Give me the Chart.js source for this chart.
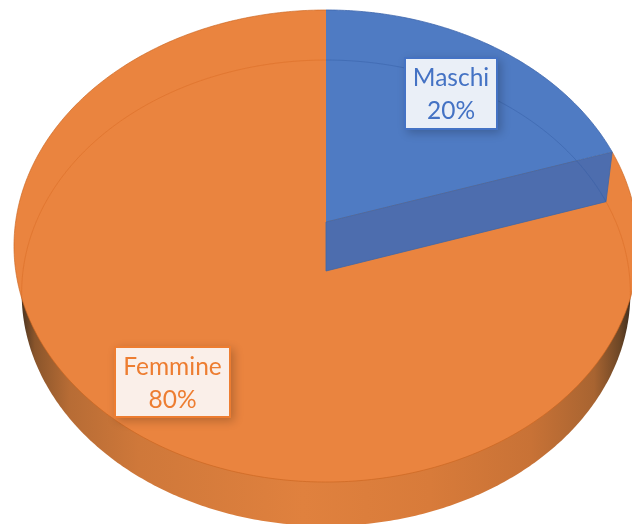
<!DOCTYPE html>
<html>
<head>
<meta charset="utf-8">
<style>
  html, body { margin: 0; padding: 0; background: #fff; }
  canvas { display: block; }
</style>
<script src="https://cdn.jsdelivr.net/npm/chart.js@4/dist/chart.umd.min.js"></script>
</head>
<body>
<canvas id="pieChart" width="632" height="524"></canvas>
<script>
var categories = ["Maschi", "Femmine"];
var values = [20, 80];

var sliceColors = ["#4F7BC3", "#EA843F"];
var edgeColors = ["rgba(62,102,172,0.8)", "rgba(203,101,32,0.65)"];
var seeThroughLines = ["rgba(50,90,160,0.4)", "rgba(214,104,34,0.45)"];
var labelColors = ["#4472C4", "#ED7D31"];
var labelFills = ["#EAEFF7", "#FAEFE9"];
var labelBoxes = [
  { left: 405, top: 58, width: 92, height: 71 },
  { left: 115, top: 347, width: 115, height: 70 }
];

// camera for the tilted disc: top face and bottom face of the pie
var topFace = { cx: 326, apex: 222, a: 310.4, b: 211, k: 0.1017 };
var bottomFace = { cx: 326, apex: 271, a: 303, b: 205.3, k: 0.0944 };

function project(face, angle) {
  var u = Math.cos(angle), v = Math.sin(angle);
  var w = 1 - face.k * v;
  return { x: face.cx + face.a * u / w, y: (face.apex + face.b * v) / w };
}

function tracePerimeter(ctx, face, start, end) {
  var steps = Math.max(2, Math.ceil((end - start) * 90));
  for (var i = 0; i <= steps; i++) {
    var p = project(face, start + (end - start) * i / steps);
    ctx.lineTo(p.x, p.y);
  }
}

function traceSlice(ctx, face, arc) {
  ctx.beginPath();
  ctx.moveTo(face.cx, face.apex);
  tracePerimeter(ctx, face, arc.startAngle, arc.endAngle);
  ctx.closePath();
}

function strokeBottomOutline(ctx, color) {
  ctx.beginPath();
  tracePerimeter(ctx, bottomFace, 0, Math.PI * 2);
  ctx.closePath();
  ctx.strokeStyle = color;
  ctx.lineWidth = 1;
  ctx.stroke();
}

function rimGradient(ctx) {
  var g = ctx.createLinearGradient(0, 0, 632, 0);
  g.addColorStop(0.030, "#3F2E1F");
  g.addColorStop(0.055, "#8A552B");
  g.addColorStop(0.110, "#B76C35");
  g.addColorStop(0.220, "#CF783A");
  g.addColorStop(0.480, "#E0813E");
  g.addColorStop(0.680, "#D87B3A");
  g.addColorStop(0.840, "#C87236");
  g.addColorStop(0.940, "#A86431");
  g.addColorStop(0.980, "#6E4726");
  g.addColorStop(1.000, "#3A2B1D");
  return g;
}

var pie3d = {
  id: "pie3d",
  beforeDatasetsDraw: function (chart) {
    var ctx = chart.ctx;
    var arcs = chart.getDatasetMeta(0).data;
    ctx.save();

    // rim, only the part below the top face stays visible
    ctx.beginPath();
    tracePerimeter(ctx, bottomFace, 0, Math.PI * 2);
    ctx.closePath();
    ctx.fillStyle = rimGradient(ctx);
    ctx.fill();

    // top face
    arcs.forEach(function (arc, i) {
      traceSlice(ctx, topFace, arc);
      ctx.fillStyle = sliceColors[i];
      ctx.fill();
    });

    // bottom face seen through the top one
    arcs.forEach(function (arc, i) {
      ctx.save();
      traceSlice(ctx, topFace, arc);
      ctx.clip();
      strokeBottomOutline(ctx, seeThroughLines[i]);
      ctx.restore();
    });

    // outlines of the top face
    arcs.forEach(function (arc, i) {
      ctx.beginPath();
      tracePerimeter(ctx, topFace, arc.startAngle, arc.endAngle);
      ctx.strokeStyle = edgeColors[i];
      ctx.lineWidth = 1;
      ctx.stroke();
    });

    // cut wall of the small slice
    var a = arcs[0];
    var t = project(topFace, a.endAngle), b = project(bottomFace, a.endAngle);
    ctx.beginPath();
    ctx.moveTo(topFace.cx, topFace.apex);
    ctx.lineTo(t.x, t.y);
    ctx.lineTo(b.x, b.y);
    ctx.lineTo(bottomFace.cx, bottomFace.apex);
    ctx.closePath();
    ctx.fillStyle = "#4D6DAE";
    ctx.fill();
    ctx.strokeStyle = "rgba(63,102,168,0.8)";
    ctx.stroke();
    ctx.save();
    ctx.clip();
    strokeBottomOutline(ctx, seeThroughLines[0]);
    ctx.restore();

    ctx.restore();
    return false;
  },
  afterDraw: function (chart) {
    var ctx = chart.ctx;
    var total = values.reduce(function (s, v) { return s + v; }, 0);
    categories.forEach(function (name, i) {
      var box = labelBoxes[i];
      ctx.save();
      ctx.shadowColor = "rgba(0,0,0,0.22)";
      ctx.shadowBlur = 9;
      ctx.shadowOffsetX = 3;
      ctx.shadowOffsetY = 3;
      ctx.fillStyle = labelColors[i];
      ctx.fillRect(box.left - 1, box.top - 1, box.width + 2, box.height + 2);
      ctx.restore();
      ctx.fillStyle = labelFills[i];
      ctx.fillRect(box.left + 1, box.top + 1, box.width - 2, box.height - 2);
      ctx.fillStyle = labelColors[i];
      ctx.font = "24.5px Lato, 'Open Sans', sans-serif";
      ctx.textAlign = "center";
      ctx.textBaseline = "middle";
      var mid = box.left + box.width / 2;
      ctx.fillText(name, mid, box.top + 20);
      ctx.fillText(Math.round(values[i] / total * 100) + "%", mid, box.top + 53);
    });
  }
};

new Chart(document.getElementById("pieChart").getContext("2d"), {
  type: "pie",
  data: {
    labels: categories,
    datasets: [{ data: values, backgroundColor: sliceColors, borderWidth: 0 }]
  },
  options: {
    responsive: false,
    animation: false,
    plugins: { legend: { display: false }, tooltip: { enabled: false } }
  },
  plugins: [pie3d]
});
</script>
</body>
</html>
